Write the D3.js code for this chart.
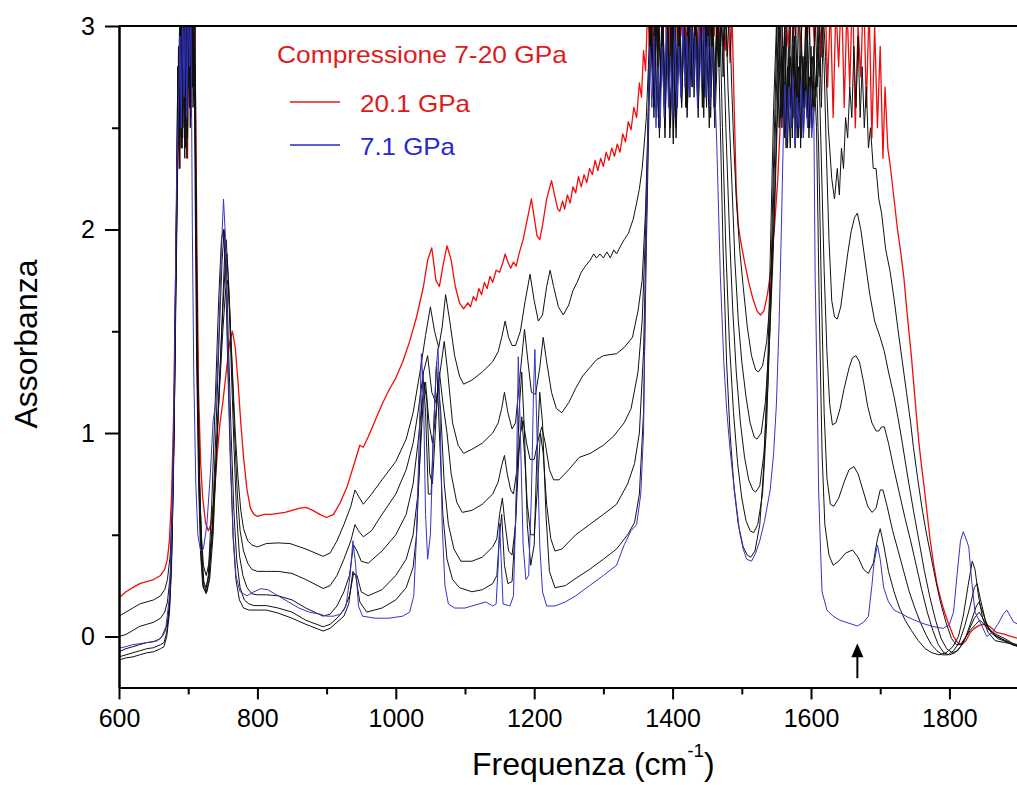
<!DOCTYPE html>
<meta charset="utf-8" />
<script src="https://d3js.org/d3.v7.min.js"></script>
<style>
  body { margin: 0; background: #fff; }
  svg { font-family: "Liberation Sans", Arial, sans-serif; }
  .axis path, .axis line { stroke: #000; stroke-width: 2; }
  .axis text { font-size: 25px; fill: #000; }
</style>
<body>
<svg id="chart" width="1017" height="785"></svg>
<script>
// tick values
const xTicks = [600, 800, 1000, 1200, 1400, 1600, 1800];
const xMinor = [700, 900, 1100, 1300, 1500, 1700, 1900];
const yTicks = [0, 1, 2, 3];
const yMinor = [0.5, 1.5, 2.5];

// spectra: [frequency cm-1, absorbance]
const p201 = [[600,0.19],[610,0.22],[620,0.24],[630,0.26],[640,0.27],[650,0.28],[660,0.3],[666,0.33],[670,0.38],[673,0.48],[676,0.7],[679,1.1],[681,1.6],[683,2.0],[685,2.6],[687,2.3],[689,2.9],[691,2.4],[693,3.1],[695,2.5],[697,2.8],[699,2.35],[701,3.0],[703,2.6],[705,3.1],[707,2.7],[709,3.1],[711,2.5],[713,1.8],[715,1.2],[718,0.85],[721,0.68],[725,0.56],[729,0.52],[733,0.55],[738,0.7],[742,0.9],[746,1.05],[750,1.15],[755,1.3],[760,1.45],[764,1.5],[768,1.42],[772,1.25],[776,1.05],[780,0.88],[785,0.72],[790,0.63],[795,0.6],[800,0.59],[810,0.6],[820,0.6],[840,0.61],[860,0.63],[870,0.635],[880,0.62],[890,0.6],[900,0.585],[910,0.6],[920,0.66],[930,0.74],[940,0.85],[948,0.94],[953,0.93],[960,0.98],[970,1.06],[980,1.14],[990,1.21],[1000,1.27],[1010,1.35],[1020,1.45],[1030,1.57],[1040,1.72],[1046,1.85],[1052,1.91],[1058,1.75],[1063,1.72],[1068,1.82],[1074,1.92],[1080,1.85],[1086,1.72],[1092,1.64],[1098,1.61],[1104,1.64],[1108,1.62],[1112,1.67],[1116,1.65],[1120,1.71],[1124,1.68],[1128,1.74],[1132,1.71],[1136,1.77],[1140,1.74],[1145,1.8],[1150,1.79],[1155,1.84],[1158,1.88],[1162,1.84],[1166,1.81],[1170,1.84],[1174,1.82],[1178,1.88],[1184,1.95],[1190,2.05],[1196,2.15],[1200,2.06],[1204,1.97],[1208,1.95],[1212,2.02],[1218,2.15],[1225,2.24],[1230,2.16],[1234,2.1],[1237,2.09],[1241,2.14],[1244,2.1],[1248,2.17],[1252,2.13],[1256,2.21],[1260,2.18],[1264,2.26],[1268,2.21],[1272,2.27],[1276,2.23],[1280,2.3],[1284,2.27],[1288,2.34],[1292,2.29],[1296,2.35],[1300,2.31],[1304,2.38],[1308,2.34],[1312,2.4],[1316,2.36],[1320,2.42],[1324,2.38],[1328,2.47],[1332,2.43],[1336,2.53],[1340,2.49],[1344,2.6],[1348,2.55],[1352,2.72],[1355,2.65],[1358,2.88],[1361,2.78],[1364,3.1],[1367,2.85],[1370,3.05],[1373,2.8],[1376,3.1],[1379,2.88],[1382,3.15],[1385,2.92],[1388,3.2],[1391,2.95],[1394,3.1],[1397,2.85],[1400,3.15],[1404,2.9],[1408,3.2],[1412,2.95],[1416,3.15],[1420,2.9],[1424,3.2],[1428,2.95],[1432,3.15],[1436,2.9],[1440,3.2],[1444,2.95],[1448,3.15],[1452,2.9],[1456,3.2],[1460,2.95],[1464,3.15],[1468,2.9],[1472,3.2],[1476,2.88],[1480,3.1],[1483,2.82],[1486,3.05],[1489,2.6],[1492,2.2],[1495,2.02],[1498,1.95],[1504,1.84],[1510,1.74],[1516,1.66],[1522,1.6],[1527,1.58],[1532,1.6],[1537,1.68],[1542,1.8],[1547,2.0],[1552,2.25],[1556,2.55],[1560,2.8],[1563,3.1],[1567,2.9],[1571,3.2],[1575,2.95],[1580,3.2],[1585,2.9],[1590,3.2],[1595,2.95],[1600,3.2],[1605,2.9],[1610,3.2],[1615,2.85],[1620,3.2],[1624,2.7],[1628,3.1],[1632,2.55],[1636,3.1],[1640,2.8],[1644,3.2],[1648,2.6],[1652,3.1],[1656,2.7],[1660,3.2],[1664,2.5],[1668,3.0],[1672,2.75],[1676,3.2],[1680,2.6],[1684,3.1],[1688,2.45],[1692,3.0],[1696,2.5],[1700,2.9],[1704,2.35],[1707,2.7],[1711,2.4],[1715,2.3],[1720,2.15],[1725,2.0],[1730,1.88],[1734,1.77],[1740,1.55],[1745,1.38],[1748,1.26],[1752,1.1],[1756,0.95],[1760,0.83],[1764,0.72],[1768,0.6],[1772,0.48],[1777,0.36],[1782,0.26],[1787,0.19],[1792,0.13],[1798,0.07],[1806,0.0],[1812,-0.03],[1818,-0.04],[1824,-0.02],[1830,0.02],[1836,0.04],[1843,0.055],[1850,0.06],[1858,0.05],[1868,0.02],[1880,0.01],[1890,0.0],[1900,-0.01]];

const pK1 = [[600,0.1],[610,0.12],[620,0.14],[630,0.16],[640,0.17],[650,0.18],[660,0.2],[666,0.23],[670,0.28],[674,0.4],[677,0.65],[680,1.1],[682,1.6],[684,2.1],[686,2.6],[688,2.3],[690,3.1],[692,2.45],[694,3.1],[696,2.6],[698,3.1],[700,2.7],[702,3.1],[704,2.8],[706,3.1],[708,2.75],[710,3.0],[711.5,2.2],[713,1.4],[716,0.8],[719,0.5],[722,0.35],[726,0.3],[730,0.36],[735,0.55],[740,0.85],[745,1.2],[750,1.5],[754,1.7],[757,1.75],[760,1.6],[764,1.3],[768,1.0],[772,0.78],[776,0.62],[780,0.53],[786,0.47],[792,0.45],[800,0.44],[813,0.457],[830,0.46],[847,0.457],[870,0.43],[895,0.394],[905,0.41],[915,0.47],[925,0.55],[935,0.64],[941,0.72],[946,0.69],[953,0.65],[965,0.7],[980,0.77],[1000,0.86],[1015,0.97],[1025,1.1],[1035,1.3],[1043,1.48],[1050,1.62],[1056,1.5],[1062,1.42],[1067,1.52],[1072,1.68],[1078,1.55],[1085,1.38],[1092,1.28],[1098,1.24],[1110,1.26],[1125,1.3],[1140,1.35],[1148,1.4],[1153,1.47],[1158,1.55],[1163,1.47],[1168,1.43],[1173,1.43],[1180,1.5],[1187,1.65],[1194,1.78],[1200,1.65],[1206,1.55],[1212,1.58],[1218,1.72],[1223,1.8],[1228,1.72],[1235,1.62],[1242,1.58],[1250,1.63],[1256,1.7],[1262,1.74],[1268,1.79],[1274,1.82],[1281,1.85],[1286,1.88],[1290,1.86],[1295,1.88],[1300,1.86],[1305,1.89],[1310,1.86],[1315,1.9],[1319,1.88],[1325,1.92],[1330,1.95],[1336,1.98],[1343,2.05],[1348,2.13],[1352,2.2],[1356,2.3],[1359,2.42],[1362,2.55],[1365,2.8],[1368,3.1],[1371,2.7],[1374,3.1],[1377,2.6],[1380,3.05],[1383,2.75],[1386,3.1],[1389,2.55],[1392,3.0],[1395,2.7],[1398,3.1],[1401,2.45],[1404,3.0],[1407,2.7],[1410,3.1],[1413,2.6],[1416,2.95],[1419,2.7],[1422,3.1],[1425,2.65],[1428,3.05],[1431,2.75],[1434,3.1],[1437,2.7],[1440,3.0],[1443,2.6],[1446,3.1],[1449,2.75],[1452,3.05],[1455,2.65],[1458,3.1],[1461,2.7],[1464,3.0],[1467,2.8],[1470,3.1],[1473,2.75],[1476,3.05],[1479,2.85],[1482,3.1],[1485,2.75],[1488,2.45],[1492,2.15],[1497,1.9],[1502,1.72],[1508,1.52],[1514,1.38],[1520,1.31],[1524,1.3],[1530,1.33],[1536,1.45],[1542,1.7],[1547,2.05],[1551,2.5],[1555,2.9],[1558,3.1],[1561,2.5],[1564,3.0],[1567,2.6],[1570,3.1],[1573,2.45],[1576,2.9],[1579,2.55],[1582,3.1],[1585,2.4],[1588,2.85],[1591,2.6],[1594,3.1],[1597,2.45],[1600,2.9],[1603,2.6],[1606,3.1],[1609,2.7],[1612,3.0],[1615,2.6],[1618,3.05],[1621,2.85],[1625,2.5],[1630,2.25],[1634,2.15],[1638,2.3],[1641,2.17],[1644,2.4],[1647,2.3],[1650,2.55],[1653,2.45],[1656,2.7],[1659,2.55],[1662,2.9],[1665,2.6],[1668,2.95],[1671,2.55],[1674,2.8],[1677,2.5],[1680,2.7],[1683,2.4],[1686,2.5],[1690,2.3],[1694,2.3],[1698,2.15],[1702,2.08],[1708,1.9],[1714,1.8],[1720,1.66],[1726,1.5],[1732,1.35],[1738,1.2],[1744,1.05],[1748,0.93],[1754,0.78],[1760,0.64],[1766,0.52],[1773,0.4],[1780,0.28],[1787,0.17],[1795,0.07],[1803,-0.01],[1810,-0.04],[1816,-0.04],[1822,-0.01],[1830,0.03],[1838,0.06],[1844,0.08],[1850,0.06],[1858,0.03],[1868,0.01],[1880,-0.01],[1890,-0.03],[1900,-0.05]];

const pK2 = [[600,0.0],[610,0.01],[620,0.03],[630,0.05],[640,0.06],[650,0.07],[660,0.09],[666,0.12],[670,0.17],[674,0.3],[677,0.55],[680,1.1],[682,1.7],[684,2.2],[686,2.7],[688,3.1],[690,2.4],[692,3.1],[694,2.5],[696,3.1],[698,2.35],[700,3.1],[702,2.6],[704,3.1],[706,2.7],[708,3.1],[710,2.6],[711.5,2.0],[713,1.4],[716,0.8],[719,0.45],[722,0.27],[726,0.24],[730,0.3],[735,0.5],[740,0.85],[745,1.25],[750,1.6],[754,1.85],[756,1.88],[759,1.7],[763,1.35],[767,1.0],[771,0.7],[775,0.52],[780,0.42],[786,0.36],[792,0.33],[800,0.32],[813,0.32],[830,0.32],[850,0.31],[870,0.28],[895,0.236],[905,0.25],[915,0.3],[925,0.38],[935,0.47],[941,0.55],[946,0.52],[953,0.49],[965,0.52],[980,0.6],[1000,0.7],[1015,0.82],[1025,0.95],[1032,1.1],[1040,1.3],[1046,1.38],[1052,1.2],[1058,1.15],[1064,1.3],[1070,1.45],[1075,1.3],[1082,1.05],[1090,0.94],[1098,0.9],[1110,0.92],[1125,0.95],[1140,1.0],[1148,1.05],[1153,1.12],[1157,1.2],[1162,1.1],[1168,1.02],[1173,1.05],[1180,1.3],[1186,1.51],[1191,1.35],[1196,1.2],[1202,1.19],[1208,1.32],[1213,1.47],[1218,1.35],[1225,1.2],[1232,1.12],[1240,1.1],[1250,1.15],[1260,1.22],[1270,1.28],[1280,1.32],[1290,1.36],[1300,1.38],[1319,1.39],[1330,1.42],[1342,1.47],[1350,1.6],[1356,1.75],[1361,2.1],[1365,2.6],[1368,3.1],[1371,2.75],[1374,3.1],[1377,2.55],[1380,3.0],[1383,2.7],[1386,3.1],[1389,2.5],[1392,2.95],[1395,2.65],[1398,3.1],[1401,2.42],[1404,2.9],[1407,2.6],[1410,3.1],[1413,2.7],[1416,3.05],[1419,2.6],[1422,3.0],[1425,2.75],[1428,3.1],[1431,2.65],[1434,3.0],[1437,2.8],[1440,3.1],[1443,2.7],[1446,3.05],[1449,2.6],[1452,3.1],[1455,2.55],[1458,3.0],[1461,2.7],[1464,3.1],[1467,2.8],[1470,3.05],[1473,2.9],[1477,3.1],[1480,2.7],[1483,2.45],[1486,2.2],[1490,1.85],[1495,1.55],[1500,1.35],[1506,1.18],[1512,1.05],[1518,0.98],[1522,0.97],[1528,1.0],[1534,1.15],[1540,1.45],[1545,1.85],[1549,2.35],[1553,2.8],[1556,3.1],[1559,2.55],[1562,3.0],[1565,2.45],[1568,2.9],[1571,2.6],[1574,3.05],[1577,2.4],[1580,2.85],[1583,2.55],[1586,3.0],[1589,2.45],[1592,2.8],[1595,2.6],[1598,3.0],[1601,2.5],[1604,2.9],[1607,2.65],[1610,3.0],[1613,2.75],[1616,3.05],[1619,2.8],[1622,2.4],[1626,1.95],[1630,1.65],[1634,1.57],[1638,1.56],[1643,1.62],[1648,1.75],[1653,1.88],[1658,1.99],[1663,2.06],[1667,2.08],[1672,2.0],[1678,1.85],[1685,1.68],[1692,1.55],[1700,1.47],[1706,1.4],[1712,1.3],[1720,1.18],[1726,1.07],[1732,0.95],[1740,0.78],[1748,0.62],[1756,0.47],[1764,0.32],[1772,0.19],[1780,0.08],[1788,-0.01],[1796,-0.06],[1804,-0.08],[1812,-0.07],[1820,-0.03],[1828,0.03],[1836,0.09],[1843,0.12],[1850,0.08],[1858,0.03],[1868,0.0],[1880,-0.02],[1890,-0.04],[1900,-0.05]];

const pK3 = [[600,-0.075],[610,-0.06],[620,-0.05],[630,-0.04],[640,-0.03],[650,-0.025],[660,-0.01],[666,0.02],[670,0.07],[674,0.2],[677,0.5],[680,1.1],[682,1.7],[684,2.3],[686,2.9],[688,2.45],[690,3.1],[692,2.6],[694,3.1],[696,2.4],[698,3.1],[700,2.75],[702,3.1],[704,2.55],[706,3.1],[708,2.8],[710,2.5],[712,1.9],[714,1.3],[717,0.7],[720,0.4],[723,0.25],[727,0.22],[731,0.28],[736,0.5],[741,0.9],[746,1.3],[750,1.65],[753,1.9],[755,1.95],[758,1.75],[762,1.35],[766,0.95],[770,0.6],[774,0.4],[779,0.3],[785,0.24],[792,0.21],[800,0.205],[813,0.205],[830,0.2],[850,0.18],[870,0.14],[895,0.1],[905,0.11],[915,0.15],[925,0.22],[933,0.3],[939,0.45],[944,0.42],[950,0.37],[960,0.36],[980,0.42],[1000,0.5],[1015,0.6],[1025,0.75],[1032,0.95],[1038,1.15],[1043,1.25],[1048,1.05],[1053,0.95],[1058,1.1],[1063,1.3],[1068,1.15],[1074,1.0],[1080,0.8],[1088,0.66],[1096,0.61],[1110,0.62],[1125,0.65],[1140,0.7],[1148,0.76],[1153,0.84],[1157,0.89],[1161,0.8],[1166,0.72],[1170,0.7],[1175,0.82],[1180,1.0],[1184,1.06],[1189,0.95],[1194,0.87],[1200,0.87],[1206,0.97],[1211,1.03],[1216,0.95],[1222,0.82],[1228,0.77],[1236,0.77],[1250,0.82],[1265,0.88],[1281,0.9],[1300,0.94],[1315,0.985],[1330,1.05],[1340,1.12],[1350,1.3],[1356,1.55],[1361,2.0],[1365,2.6],[1368,3.1],[1372,2.65],[1376,3.1],[1380,2.5],[1384,3.0],[1388,2.6],[1392,3.1],[1396,2.45],[1400,3.0],[1404,2.55],[1408,3.1],[1412,2.7],[1416,3.0],[1420,2.6],[1424,3.1],[1428,2.7],[1432,3.05],[1436,2.65],[1440,3.1],[1444,2.6],[1448,3.0],[1452,2.7],[1456,3.1],[1460,2.6],[1464,3.0],[1468,2.8],[1472,3.1],[1477,2.5],[1482,2.0],[1487,1.6],[1492,1.3],[1498,1.05],[1504,0.88],[1510,0.77],[1516,0.72],[1520,0.71],[1526,0.74],[1532,0.9],[1538,1.25],[1543,1.75],[1547,2.3],[1551,2.8],[1554,3.1],[1558,2.5],[1562,2.95],[1566,2.4],[1570,2.85],[1574,2.55],[1578,3.0],[1582,2.45],[1586,2.9],[1590,2.6],[1594,3.05],[1598,2.5],[1602,2.85],[1606,2.65],[1610,2.9],[1613,2.6],[1616,2.2],[1619,1.8],[1623,1.4],[1627,1.14],[1631,1.04],[1636,1.05],[1642,1.12],[1648,1.22],[1655,1.32],[1660,1.37],[1665,1.38],[1670,1.35],[1676,1.25],[1682,1.13],[1688,1.05],[1694,1.01],[1698,1.01],[1702,1.03],[1706,1.03],[1712,0.95],[1720,0.82],[1728,0.7],[1736,0.58],[1744,0.47],[1752,0.35],[1760,0.23],[1768,0.12],[1776,0.03],[1784,-0.04],[1792,-0.08],[1800,-0.09],[1808,-0.08],[1816,-0.05],[1824,0.0],[1832,0.08],[1839,0.15],[1843,0.17],[1848,0.12],[1855,0.05],[1865,0.01],[1875,-0.01],[1888,-0.03],[1900,-0.05]];

const pK4 = [[600,-0.1],[610,-0.09],[620,-0.08],[630,-0.07],[640,-0.06],[650,-0.055],[660,-0.04],[665,-0.03],[669,0.02],[673,0.15],[676,0.4],[679,0.9],[681,1.5],[683,2.1],[685,2.8],[687,2.4],[689,3.1],[691,2.55],[693,3.1],[695,2.35],[697,3.1],[699,2.65],[701,3.1],[703,2.5],[705,3.1],[707,2.7],[709,2.9],[711,2.1],[713,1.3],[716,0.7],[719,0.38],[722,0.24],[726,0.21],[730,0.28],[735,0.55],[740,1.0],[745,1.5],[749,1.85],[752,2.0],[755,1.85],[758,1.45],[762,1.0],[766,0.62],[770,0.38],[775,0.24],[781,0.18],[788,0.16],[795,0.152],[813,0.152],[830,0.14],[850,0.12],[870,0.08],[895,0.048],[905,0.06],[915,0.09],[925,0.13],[933,0.2],[939,0.31],[944,0.3],[950,0.22],[960,0.2],[980,0.23],[1000,0.3],[1015,0.38],[1025,0.5],[1032,0.7],[1037,1.0],[1041,1.25],[1045,1.15],[1049,0.8],[1053,0.75],[1057,1.0],[1061,1.25],[1065,1.1],[1070,0.75],[1076,0.55],[1084,0.43],[1094,0.37],[1110,0.37],[1125,0.39],[1140,0.44],[1146,0.48],[1150,0.6],[1154,0.68],[1158,0.55],[1163,0.42],[1168,0.4],[1173,0.55],[1178,0.9],[1182,1.08],[1186,0.9],[1190,0.65],[1195,0.5],[1200,0.5],[1205,0.75],[1209,1.0],[1213,0.9],[1218,0.65],[1224,0.48],[1230,0.42],[1240,0.43],[1260,0.5],[1280,0.55],[1300,0.6],[1319,0.65],[1335,0.75],[1345,0.85],[1352,1.0],[1358,1.4],[1362,2.0],[1366,2.7],[1369,3.1],[1373,2.6],[1377,3.05],[1381,2.45],[1385,3.1],[1389,2.7],[1393,3.0],[1397,2.5],[1401,3.1],[1405,2.45],[1409,2.95],[1413,2.6],[1417,3.1],[1421,2.55],[1425,3.0],[1429,2.7],[1433,3.1],[1437,2.6],[1441,3.05],[1445,2.55],[1449,3.1],[1453,2.6],[1457,3.0],[1461,2.5],[1465,2.9],[1468,3.1],[1472,2.5],[1477,1.9],[1482,1.45],[1488,1.1],[1494,0.85],[1500,0.68],[1506,0.57],[1512,0.52],[1517,0.51],[1523,0.55],[1530,0.7],[1536,1.05],[1541,1.6],[1545,2.2],[1549,2.75],[1552,3.1],[1556,2.55],[1560,2.9],[1564,2.4],[1568,2.8],[1572,2.5],[1576,2.95],[1580,2.45],[1584,2.85],[1588,2.55],[1592,3.0],[1596,2.5],[1600,2.8],[1604,2.6],[1608,2.75],[1611,2.4],[1615,1.7],[1619,1.1],[1623,0.78],[1628,0.65],[1633,0.64],[1640,0.68],[1648,0.76],[1655,0.82],[1662,0.835],[1668,0.8],[1675,0.72],[1682,0.64],[1688,0.61],[1694,0.63],[1700,0.72],[1704,0.72],[1710,0.64],[1718,0.52],[1726,0.42],[1734,0.32],[1742,0.22],[1750,0.14],[1758,0.07],[1766,0.01],[1774,-0.04],[1782,-0.07],[1790,-0.09],[1798,-0.09],[1806,-0.07],[1814,-0.03],[1822,0.05],[1830,0.15],[1836,0.24],[1840,0.26],[1845,0.18],[1852,0.08],[1860,0.02],[1870,-0.01],[1885,-0.03],[1900,-0.05]];

const pK5 = [[600,-0.115],[610,-0.105],[620,-0.1],[630,-0.09],[640,-0.08],[650,-0.075],[660,-0.06],[665,-0.05],[669,0.0],[673,0.12],[676,0.35],[679,0.85],[681,1.5],[683,2.1],[685,2.8],[687,2.5],[689,3.1],[691,2.4],[693,3.1],[695,2.6],[697,3.1],[699,2.45],[701,3.1],[703,2.7],[705,3.1],[707,2.6],[709,2.8],[710,2.2],[712,1.4],[715,0.75],[718,0.4],[721,0.25],[725,0.22],[729,0.3],[734,0.65],[739,1.15],[744,1.65],[748,1.95],[751,2.0],[754,1.8],[757,1.35],[761,0.85],[765,0.48],[769,0.28],[774,0.18],[780,0.14],[788,0.13],[800,0.13],[813,0.13],[830,0.115],[850,0.09],[870,0.06],[895,0.027],[905,0.04],[915,0.07],[925,0.1],[932,0.16],[938,0.32],[942,0.3],[948,0.17],[958,0.12],[980,0.14],[1000,0.18],[1015,0.24],[1025,0.34],[1030,0.5],[1035,0.9],[1039,1.3],[1043,1.1],[1047,0.7],[1051,0.7],[1055,1.05],[1059,1.35],[1063,1.0],[1068,0.6],[1074,0.38],[1082,0.28],[1092,0.24],[1110,0.22],[1125,0.23],[1140,0.26],[1146,0.3],[1150,0.5],[1153,0.6],[1157,0.35],[1162,0.26],[1168,0.27],[1173,0.55],[1178,1.1],[1182,1.3],[1186,1.0],[1190,0.55],[1195,0.35],[1200,0.45],[1204,0.9],[1208,1.2],[1212,1.05],[1217,0.6],[1222,0.32],[1230,0.24],[1245,0.25],[1262,0.29],[1280,0.33],[1300,0.38],[1319,0.43],[1335,0.5],[1345,0.56],[1352,0.7],[1358,1.1],[1362,1.9],[1366,2.6],[1369,3.1],[1373,2.55],[1377,3.1],[1381,2.6],[1385,2.95],[1389,2.45],[1393,3.1],[1397,2.55],[1401,3.0],[1405,2.5],[1409,3.1],[1413,2.65],[1417,3.0],[1421,2.6],[1425,3.1],[1429,2.7],[1433,3.0],[1437,2.55],[1441,3.1],[1445,2.65],[1449,3.0],[1453,2.5],[1457,3.1],[1461,2.6],[1465,3.1],[1469,2.5],[1473,1.9],[1478,1.35],[1483,1.0],[1489,0.72],[1495,0.55],[1502,0.44],[1508,0.4],[1513,0.39],[1519,0.42],[1526,0.55],[1532,0.85],[1538,1.4],[1542,2.0],[1546,2.6],[1550,3.0],[1554,2.5],[1558,2.85],[1562,2.45],[1566,2.8],[1570,2.4],[1574,2.9],[1578,2.5],[1582,2.8],[1586,2.45],[1590,2.85],[1594,2.55],[1598,2.75],[1602,2.5],[1606,2.65],[1608,2.5],[1612,1.6],[1616,0.9],[1620,0.55],[1626,0.4],[1632,0.35],[1640,0.37],[1650,0.41],[1660,0.425],[1668,0.39],[1676,0.33],[1683,0.31],[1690,0.36],[1696,0.48],[1700,0.53],[1705,0.45],[1712,0.32],[1720,0.22],[1728,0.14],[1736,0.08],[1745,0.03],[1755,-0.02],[1765,-0.06],[1775,-0.08],[1785,-0.09],[1795,-0.08],[1805,-0.05],[1813,0.0],[1820,0.1],[1827,0.25],[1833,0.37],[1837,0.33],[1842,0.2],[1848,0.09],[1856,0.02],[1866,-0.02],[1880,-0.03],[1900,-0.04]];

const p71 = [[600,-0.057],[610,-0.05],[620,-0.04],[630,-0.035],[640,-0.03],[650,-0.025],[656,-0.02],[662,0.0],[668,0.05],[673,0.2],[677,0.6],[680,1.3],[683,2.2],[686,2.6],[688,2.95],[690,2.5],[692,3.1],[694,2.65],[696,3.1],[698,2.55],[700,3.1],[702,2.8],[704,3.1],[706,2.0],[708,1.3],[711,0.75],[714,0.5],[718,0.42],[722,0.43],[727,0.55],[732,0.8],[736,1.06],[740,1.15],[744,1.45],[748,1.9],[751,2.15],[754,1.95],[757,1.45],[761,0.9],[765,0.5],[769,0.3],[775,0.22],[785,0.2],[795,0.22],[805,0.235],[815,0.23],[830,0.2],[845,0.17],[860,0.14],[875,0.12],[890,0.11],[900,0.1],[910,0.1],[920,0.11],[928,0.15],[934,0.3],[938,0.47],[942,0.35],[946,0.15],[952,0.1],[970,0.09],[990,0.09],[1010,0.1],[1020,0.12],[1026,0.2],[1030,0.5],[1034,1.0],[1037,1.39],[1040,1.2],[1043,0.6],[1046,0.38],[1050,0.5],[1054,0.95],[1058,1.3],[1061,1.42],[1064,1.1],[1067,0.55],[1071,0.25],[1076,0.16],[1085,0.14],[1100,0.14],[1110,0.15],[1120,0.16],[1130,0.17],[1140,0.15],[1145,0.16],[1148,0.35],[1150,0.555],[1152,0.4],[1155,0.16],[1165,0.15],[1170,0.2],[1174,0.7],[1177,1.375],[1180,1.0],[1184,0.45],[1188,0.28],[1192,0.3],[1196,0.7],[1199,1.2],[1201,1.41],[1204,1.0],[1208,0.45],[1212,0.22],[1218,0.15],[1230,0.15],[1245,0.17],[1260,0.2],[1280,0.25],[1300,0.3],[1319,0.35],[1330,0.45],[1340,0.52],[1348,0.55],[1354,0.7],[1358,1.0],[1361,1.8],[1364,2.4],[1367,2.9],[1370,2.6],[1373,2.95],[1376,2.5],[1379,2.8],[1382,2.5],[1385,2.9],[1388,2.55],[1391,3.0],[1394,2.6],[1397,2.85],[1400,2.55],[1403,3.0],[1406,2.6],[1409,2.9],[1412,2.65],[1415,3.05],[1418,2.7],[1421,2.95],[1424,2.65],[1427,3.1],[1430,2.7],[1433,2.95],[1436,2.6],[1439,3.0],[1442,2.7],[1445,3.1],[1448,2.65],[1451,2.95],[1454,2.6],[1457,2.9],[1460,2.8],[1464,2.4],[1469,1.77],[1474,1.35],[1478,1.12],[1483,0.92],[1488,0.76],[1493,0.62],[1497,0.51],[1502,0.43],[1507,0.38],[1514,0.37],[1520,0.41],[1526,0.47],[1533,0.57],[1541,0.72],[1546,0.9],[1550,1.14],[1554,1.55],[1557,1.98],[1560,2.45],[1562,2.71],[1565,2.45],[1568,2.7],[1571,2.5],[1574,2.75],[1577,2.42],[1580,2.65],[1583,2.5],[1586,2.72],[1589,2.45],[1592,2.68],[1595,2.5],[1598,2.7],[1601,2.45],[1604,2.6],[1606,1.77],[1609,1.2],[1611,0.72],[1614,0.4],[1616,0.22],[1623,0.13],[1632,0.1],[1642,0.08],[1655,0.065],[1667,0.052],[1676,0.07],[1683,0.1],[1688,0.25],[1691,0.36],[1696,0.45],[1700,0.38],[1705,0.24],[1712,0.17],[1720,0.13],[1729,0.115],[1740,0.095],[1750,0.08],[1760,0.066],[1775,0.05],[1791,0.04],[1800,0.06],[1806,0.12],[1811,0.3],[1816,0.47],[1820,0.515],[1824,0.48],[1828,0.44],[1832,0.28],[1837,0.12],[1845,0.066],[1854,0.0],[1862,0.02],[1870,0.06],[1878,0.11],[1883,0.13],[1888,0.1],[1893,0.07],[1900,0.06]];

const legendTitle = "Compressione 7-20 GPa";
const legendLabels = ["20.1 GPa", "7.1 GPa"];
const arrowFreq = 1667, arrowBase = -0.205, arrowTip = -0.033;

const svg = d3.select("#chart");
const x = d3.scaleLinear().domain([600, 1900]).range([119, 1018.6]);
const y = d3.scaleLinear().domain([-0.25, 3]).range([687.4, 26]);

svg.append("rect").attr("width", 1017).attr("height", 785).attr("fill", "#fff");

svg.append("clipPath").attr("id", "plot")
  .append("rect").attr("x", 119).attr("y", 26).attr("width", 900).attr("height", 661.4);

const line = d3.line().x(d => x(d[0])).y(d => y(d[1]));
const g = svg.append("g").attr("clip-path", "url(#plot)");

// draw order: red behind, blacks, blue on top
const series = [
  {data: p201, color: "#f20c0c", w: 1.3},
  {data: pK5, color: "#111", w: 1},
  {data: pK4, color: "#111", w: 1},
  {data: pK3, color: "#111", w: 1},
  {data: pK2, color: "#111", w: 1},
  {data: pK1, color: "#111", w: 1},
  {data: p71, color: "#3434c8", w: 1}
];
series.forEach(s => {
  g.append("path").attr("d", line(s.data))
    .attr("fill", "none").attr("stroke", s.color).attr("stroke-width", s.w)
    .attr("stroke-linejoin", "round");
});

// axes
const fmt = d3.format("d");
svg.append("g").attr("class", "axis").attr("transform", "translate(0,687.4)")
  .call(d3.axisBottom(x).tickValues(xTicks).tickFormat(fmt).tickSize(12).tickPadding(10).tickSizeOuter(0));
svg.append("g").attr("class", "axis").attr("transform", "translate(0,687.4)")
  .call(d3.axisBottom(x).tickValues(xMinor).tickSize(7).tickFormat("").tickSizeOuter(0));
svg.append("g").attr("class", "axis").attr("transform", "translate(119,0)")
  .call(d3.axisLeft(y).tickValues(yTicks).tickFormat(fmt).tickSize(14).tickPadding(10).tickSizeOuter(0));
svg.append("g").attr("class", "axis").attr("transform", "translate(119,0)")
  .call(d3.axisLeft(y).tickValues(yMinor).tickSize(7).tickFormat("").tickSizeOuter(0));
svg.append("line").attr("x1", 119).attr("x2", 1018.6).attr("y1", 26).attr("y2", 26)
  .attr("stroke", "#000").attr("stroke-width", 2);
svg.append("line").attr("x1", 1018.6).attr("x2", 1018.6).attr("y1", 26).attr("y2", 687.4)
  .attr("stroke", "#000").attr("stroke-width", 2);

// axis titles
const xt = svg.append("text").attr("x", 472).attr("y", 775)
  .attr("font-size", 32).attr("fill", "#000");
xt.append("tspan").text("Frequenza (cm");
xt.append("tspan").attr("font-size", 19).attr("dy", -18).text("-1");
xt.append("tspan").attr("dy", 18).text(")");

svg.append("text").attr("transform", "translate(37,344) rotate(-90)")
  .attr("text-anchor", "middle").attr("font-size", 32).attr("fill", "#000")
  .text("Assorbanza");

// legend
svg.append("text").attr("x", 277).attr("y", 63).attr("font-size", 24)
  .attr("fill", "#dc1c1c").attr("textLength", 290).attr("lengthAdjust", "spacingAndGlyphs")
  .text(legendTitle);
const legColors = ["#e01818", "#2828d0"];
const legY = [102, 145];
const legW = [110, 95];
legendLabels.forEach((lab, i) => {
  svg.append("line").attr("x1", 290).attr("x2", 340).attr("y1", legY[i]).attr("y2", legY[i])
    .attr("stroke", legColors[i]).attr("stroke-width", 1.5);
  svg.append("text").attr("x", 360).attr("y", legY[i] + 10).attr("font-size", 24)
    .attr("fill", legColors[i]).attr("textLength", legW[i]).attr("lengthAdjust", "spacingAndGlyphs")
    .text(lab);
});

// arrow marking 1667 cm-1
const ax = x(arrowFreq);
svg.append("line").attr("x1", ax).attr("x2", ax)
  .attr("y1", y(arrowBase)).attr("y2", y(arrowTip) + 12)
  .attr("stroke", "#000").attr("stroke-width", 2);
svg.append("path")
  .attr("d", `M${ax},${y(arrowTip)} L${ax - 6},${y(arrowTip) + 14} L${ax + 6},${y(arrowTip) + 14} Z`)
  .attr("fill", "#000");
</script>
</body>
